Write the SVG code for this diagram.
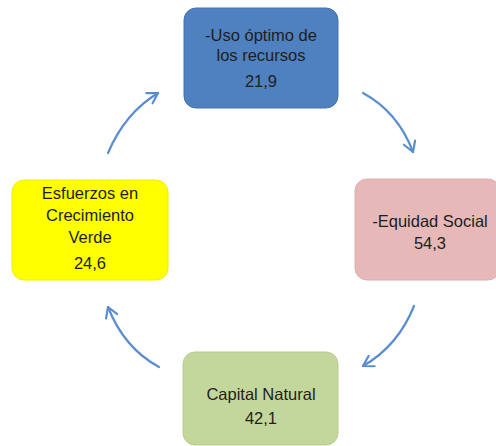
<svg xmlns="http://www.w3.org/2000/svg" width="496" height="446" viewBox="0 0 496 446">
<style>
  text { font-family: "Liberation Sans", "Open Sans", sans-serif; font-size: 16.5px; fill: #1e1e1e; text-anchor: middle; }
  .box { stroke-width: 1; }
  .conn { fill: none; stroke: #5a8dd0; stroke-width: 2.2; stroke-linecap: round; marker-end: url(#arr); }
</style>
<defs>
  <marker id="arr" markerUnits="userSpaceOnUse" viewBox="0 0 14 14" refX="12" refY="7" markerWidth="14" markerHeight="14" orient="auto">
    <path d="M2,1 L12,7 L2,13" fill="none" stroke="#5a8dd0" stroke-width="2.2" stroke-linecap="round" stroke-linejoin="round"/>
  </marker>
</defs>
<rect width="496" height="446" fill="#ffffff"/>
<g id="connectors">
  <path class="conn" d="M108,153 Q125,113 158,93"/>
  <path class="conn" d="M363,93 Q398,112 413,152"/>
  <path class="conn" d="M414,306 Q398,346 363,366"/>
  <path class="conn" d="M159,367 Q124,348 108,307"/>
</g>
<g id="node-uso">
  <rect class="box" x="184" y="8" width="154" height="100" rx="12" fill="#4f80c0" stroke="#4573b0"/>
  <text x="261" y="41">-Uso óptimo de</text>
  <text x="261" y="61">los recursos</text>
  <text x="261" y="87">21,9</text>
</g>
<g id="node-equidad">
  <rect class="box" x="355" y="179" width="145" height="101" rx="12" fill="#e6b8b8" stroke="#dcaeae"/>
  <text x="430" y="227">-Equidad Social</text>
  <text x="430" y="249">54,3</text>
</g>
<g id="node-capital">
  <rect class="box" x="183" y="352" width="155" height="93" rx="12" fill="#c3d69b" stroke="#b8cc8f"/>
  <text x="261" y="400">Capital Natural</text>
  <text x="261" y="424">42,1</text>
</g>
<g id="node-esfuerzos">
  <rect class="box" x="12" y="180" width="156" height="100" rx="12" fill="#ffff00" stroke="#eeee00"/>
  <text x="90" y="199">Esfuerzos en</text>
  <text x="90" y="221">Crecimiento</text>
  <text x="90" y="243">Verde</text>
  <text x="90" y="269">24,6</text>
</g>
</svg>
